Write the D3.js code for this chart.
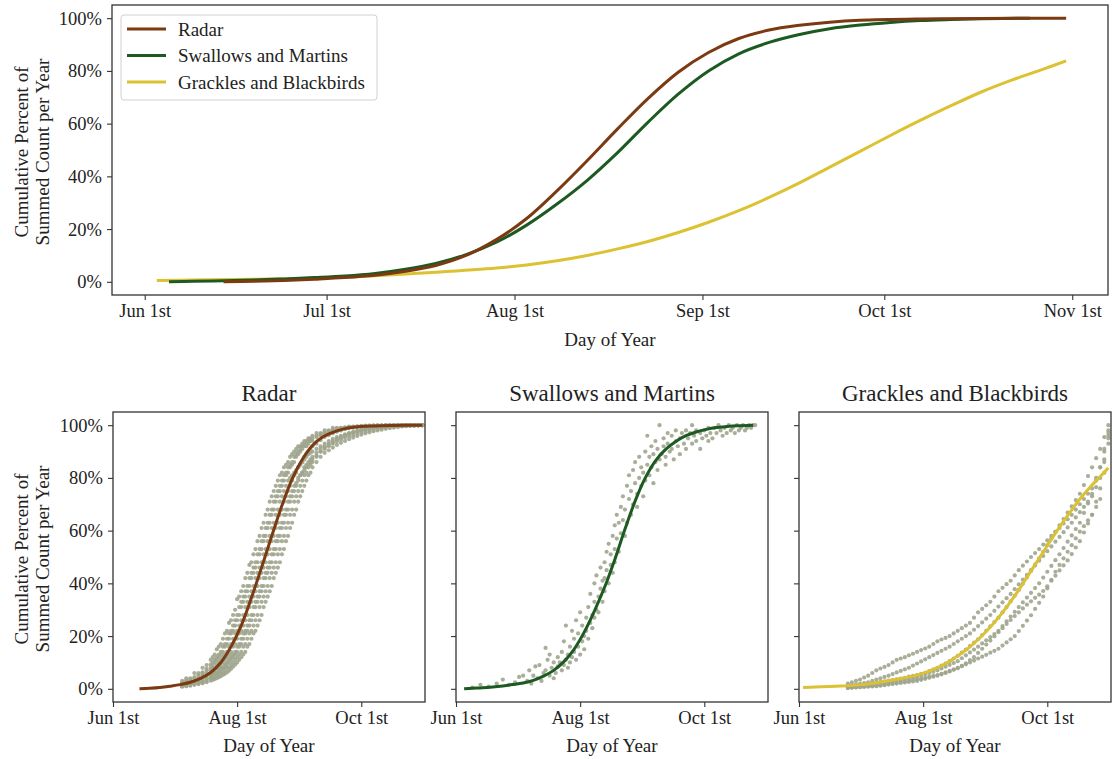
<!DOCTYPE html>
<html><head><meta charset="utf-8">
<script src="https://cdn.jsdelivr.net/npm/d3@7"></script>
<style>
body{margin:0;background:#fff;}
svg text{font-family:"Liberation Serif","DejaVu Serif",serif;fill:#222;}
</style></head><body>
<svg id="chart" width="1112" height="759"></svg>
<script>
// ---------- DATA ----------
const seriesNames = ["Radar", "Swallows and Martins", "Grackles and Blackbirds"];
const seriesColors = ["#7b3a12", "#1c5a21", "#dcc232"];
const dotColor = "#9ea58d";

const topTickDays = [152, 182, 213, 244, 274, 305];
const topTickLabels = ["Jun 1st", "Jul 1st", "Aug 1st", "Sep 1st", "Oct 1st", "Nov 1st"];
const subTickDays = [152, 213, 274];
const subTickLabels = ["Jun 1st", "Aug 1st", "Oct 1st"];
const yTicks = [0, 20, 40, 60, 80, 100];

// fitted cumulative curves: [day of year, percent]
const radarCurve = [[165,0],[170,0.2],[175,0.5],[180,1.0],[185,1.6],[190,2.5],[195,4.0],[200,6.2],[205,10],[210,16],[215,24],[220,34.5],[225,46],[230,58],[235,69.5],[240,79.5],[245,87],[250,92.3],[255,95.5],[260,97.3],[265,98.5],[270,99.2],[280,99.7],[290,99.9],[304,100]];
const swallowCurve = [[156,0],[160,0.2],[165,0.4],[170,0.7],[175,1.1],[180,1.6],[185,2.2],[190,3.2],[195,4.8],[200,7.0],[205,10.3],[210,15],[215,21.5],[220,29.5],[225,38.5],[230,49],[235,60.5],[240,71.2],[245,80],[250,86.5],[255,90.8],[260,93.8],[265,96],[270,97.4],[275,98.4],[280,99.1],[285,99.5],[290,99.8],[298,100]];
const grackleCurve = [[154,0.5],[160,0.7],[170,1.0],[180,1.4],[190,2.3],[200,3.6],[210,5.2],[215,6.4],[220,8.0],[225,10.0],[230,12.5],[235,15.3],[240,18.7],[245,22.6],[250,27],[255,32],[260,37.5],[265,43.5],[270,49.5],[275,55.5],[280,61.3],[285,66.8],[290,72],[295,76.5],[300,80.5],[304,83.8]];

// radar yearly observations (percent) on these days
const radarDays = [186,188,190,192,194,196,198,200,201,202,203,204,205,206,207,208,209,210,211,212,213,214,215,216,217,218,219,220,221,222,223,224,225,226,227,228,229,230,231,232,233,234,235,236,237,238,239,240,241,242,243,244,245,246,247,248,249,250,252,254,256,258,260,262,264,266,268,270,272,274,276,278,280,282,284,286,288,290,292,294,296,298,300,302,304];
const radarYear1 = [3,4,4,6,6,8,9,11, 12,13,15,16,17,19,21,22,25,26,28,30,34,35,37,39,42,44,47,48,51,53,56,58,61,63,66,68,71,73,75,77,79,81,82,84,85,86,88,89,90,91,92,92,93,94,94,95,95,96, 97,97,98,98,99,99,99,99,99.5,99.5,99.6,99.7,99.8,99.8,99.9,99.9,99.9,100,100,100,100,100,100,100,100,100,100];
const radarYear2 = [2,3,3,4,5,6,7,8, 9,10,11,12,13,14,16,17,19,21,22,24,26,28,31,33,35,37,39,42,44,46,48,51,53,56,58,61,63,66,68,71,73,75,77,79,81,82,84,85,86,88,89,90,91,92,92,93,94,94, 95.5,96.2,96.9,97.5,98,98.5,98.8,99,99.2,99.3,99.4,99.5,99.6,99.7,99.7,99.8,99.8,99.9,99.9,100,100,100,100,100,100,100,100];
const radarYear3 = [2,2,3,3,4,5,6,7, 8,8,9,10,11,12,13,14,16,17,19,21,22,24,26,28,31,33,35,37,39,42,44,46,48,51,53,56,58,61,63,66,68,71,73,75,77,79,80,81,82,83,84,85,86,87,88,89,89.5,90, 91,92,93,94,94.8,95.5,96,96.5,97,97.4,97.8,98.1,98.4,98.7,98.9,99.1,99.3,99.4,99.5,99.6,99.7,99.8,99.8,99.9,99.9,100,100];
const radarYear4 = [2,2,2,3,3,4,5,6, 6,7,8,8,9,10,11,12,13,14,16,17,19,21,22,24,26,28,31,33,35,37,39,42,44,46,48,51,53,56,58,61,63,66,68,71,73,75,77,79,81,82,84,85,86,88,89,90,91,92, 93,94.3,95.5,96.2,96.9,97.5,98,98.5,98.8,99,99.2,99.3,99.4,99.5,99.6,99.7,99.7,99.8,99.8,99.9,99.9,100,100,100,100,100,100];
const radarYear5 = [1,2,2,2,3,3,4,5, 5,6,6,7,8,8,9,10,11,12,13,14,16,17,19,21,22,24,26,28,31,33,35,37,39,42,44,46,48,51,53,56,58,61,63,66,68,71,73,75,77,78,80,81,82,83,84,85,86,87, 88.5,90,91,92,93,93.8,94.5,95.2,95.8,96.3,96.8,97.2,97.6,98,98.3,98.6,98.9,99.1,99.3,99.4,99.5,99.6,99.7,99.8,99.9,99.9,100];
const radarYear6 = [1,1,1.5,2,2,2.5,3,4, 4,4,5,5,6,6,7,8,8,9,10,11,12,13,14,16,17,19,21,22,24,26,28,31,33,35,37,39,42,44,46,48,51,53,56,58,61,63,66,68,71,73,75,77,79,81,82,84,85,86, 88,90,91.5,92.5,93.5,94.5,95.3,96,96.7,97.2,97.7,98.1,98.5,98.8,99,99.2,99.4,99.5,99.6,99.7,99.8,99.8,99.9,99.9,100,100,100];
const radarYear7 = [2.5,3,3.7,4.4,5.3,6.2,7.6,9.2, 10,11,12,13,14,16,17,19,21,22,24,26,28,31,33,35,37,39,42,44,46,48,51,53,56,58,61,63,66,68,71,73,75,77,79,81,82,84,85,86,88,89,90,91,92,92.5,93,94,94.3,95, 96,96.6,97.3,97.8,98.3,98.6,98.9,99.2,99.3,99.4,99.5,99.5,99.6,99.7,99.7,99.8,99.8,99.9,99.9,99.9,100,100,100,100,100,100,100];
const radarYear8 = [1.2,1.5,1.8,2.1,2.5,3.1,3.7,4.4, 4.8,5.3,5.7,6.2,6.9,7.6,8.4,9.2,10,11,12,13,14,16,17,19,21,22,24,26,28,31,33,35,37,39,42,44,46,48,51,53,56,58,61,63,66,68,71,73,75,77,79,81,82,84,85,86,87,88, 89.5,91,92,93,94,94.8,95.5,96.2,96.8,97.3,97.7,98.1,98.4,98.7,98.9,99.1,99.3,99.4,99.5,99.6,99.7,99.8,99.8,99.9,99.9,100,100];
const radarYear9 = [0.8,1.0,1.2,1.5,1.8,2.1,2.5,3.1, 3.4,3.7,4.0,4.4,4.8,5.3,5.7,6.2,6.9,7.6,8.4,9.2,10,11,12,13,14,16,17,19,21,22,24,26,28,31,33,35,37,39,42,44,46,48,51,53,56,58,61,63,66,68,71,73,75,77,79,81,82,84, 86,88,89.5,90.5,91.5,92.5,93.3,94,94.7,95.3,95.9,96.4,96.9,97.3,97.7,98,98.3,98.6,98.9,99.1,99.3,99.5,99.6,99.7,99.8,99.9,100];

// swallows & martins observations: [day, percent]
const swallowObs = [[160,0.5],[164,1.5],[168,0.8],[172,2],[175,3.5],[178,1.5],[181,2.5],[183,4.5],[185,5],[187,3],[188,7],[189,2],[190,5],[191,8.5],[192,4],[193,9],[194,3],[195,6],[196,15.5],[196,7],[197,11],[198,5],[198,13],[199,8],[200,10],[200,4],
[201,6],[202,12],[202,8.5],[203,10],[204,7],[204,14],[205,9],[205,18],[206,11],[206,24],[207,13],[207,8],[208,16],[208,10],[209,22],[209,12],[210,14],[210,19],[211,26],[211,11],[212,16],[212,21],[213,13],[213,29],[214,18],[214,24],[215,15],[215,20],[216,27],[216,22],[217,31],[217,19],[218,25],[218,36],[219,28],[219,23],[220,33],[220,40],[220,27],[221,30],[221,43],[222,35],[222,29],[223,38],[223,46],[224,33],[224,41],[225,48],[225,37],[225,42],[226,45],[226,52],[227,40],[227,55],[228,47],[228,51],[229,58],[229,44],[230,53],[230,62],[230,48],[231,57],[231,66],[232,52],[232,63],[233,69],[233,59],[234,64],[234,73],[235,58],[235,68],[236,77],[236,63],[237,72],[237,81],[238,66],[238,75],[239,83],[239,70],[240,78],[240,86],[241,74],[241,69],[242,80],[242,88],[243,77],[243,84],[244,73],[244,82],[245,90],[245,79],
[246,85],[246,96],[247,81],[247,88],[248,92],[248,84],[249,78],[249,89],[250,94],[250,86],[251,83],[251,91],[252,100],[252,87],[253,89],[254,95],[254,92],[255,85],[255,88],[256,97],[256,93],[257,90],[258,91],[258,96],[259,87],[260,94],[260,98],[261,92],[262,95],[262,89],[263,97],[264,93],[265,98],[265,91],[266,95],[267,97],[268,100],[268,93],[269,96],[270,94],[270,98],[272,97],[272,91],[273,95],[274,98],[275,96],[276,99],[276,94],[277,97],[278,95],[279,99],[280,97],[281,100],[282,98],[283,96],[284,99],[285,97],[286,100],[287,98],[288,99],[289,97],[290,100],[291,98],[292,99],[293,100],[294,98],[295,99],[296,100],[297,99],[298,100],[299,100]];

// grackles & blackbirds yearly observations on these days
const grackleDays = [176,178,180,182,184,186,188,190,192,194,196,198,200,202,204,206,208,210,212,214,216,218,220,222,224,226,228,230,232,234,236,238,240,242,244,246,248,250,252,254,256,258,260,262,264,266,268,270,272,274,276,278,280,282,284,286,288,290,292,294,296,298,300,302,304];
const grackleYear1 = [2,2.5,3,3.5,4.3,5,6,7,7.7,8.3,9,10,11,11.5,12,12.7,13.3,14,14.7,15.3,16,17,18,18.7,19.3,20,21,22,23,24,25,27,29,30.3,31.7,33,35,37,38.3,39.7,41,43,45,46.7,48.3,50,51.5,53,54.7,56.3,58,59.5,61,62.7,64.3,66,68,70,72,74,76,80,84,91,98];
const grackleYear2 = [1,1.3,1.6,1.9,2.2,2.5,3,3.5,4,4.5,5,5.6,6.2,6.8,7.4,8,8.8,9.6,10.4,11.2,12,12.8,13.6,14.4,15.2,16,17,18,19,20,21,22.4,23.8,25.2,26.6,28,29.6,31.2,32.8,34.4,36,37.8,39.6,41.4,43.2,45,46.8,48.6,50.4,52.2,54,55.8,57.6,59.4,61.2,63,65,67,69,71,73,76.5,80,87,95];
const grackleYear3 = [0.9,1.1,1.3,1.5,1.7,1.9,2.1,2.3,2.6,2.8,3.1,3.3,3.6,3.9,4.2,4.6,4.9,5.2,5.7,6.1,6.7,7.3,8,8.8,9.6,10.5,11.5,12.5,13.7,14.9,16.2,17.5,18.8,20.4,22,23.7,25.3,27,29,31,33.2,35.3,37.5,39.9,42.3,44.7,47.1,49.5,52,54.5,57,59.5,62,64.4,66.8,69.2,71.6,74,77.3,80.7,84,87.5,91,95.5,100];
const grackleYear4 = [0.5,0.6,0.8,0.9,1.1,1.2,1.4,1.5,1.8,2.1,2.4,2.7,3,3.3,3.6,3.9,4.2,4.5,5,5.5,6,6.5,7,7.7,8.4,9.1,9.8,10.5,11.6,12.7,13.8,14.9,16,17.2,18.4,19.6,20.8,22,23.8,25.6,27.4,29.2,31,32.8,34.6,36.4,38.2,40,42.2,44.4,46.6,48.8,51,53.4,55.8,58.2,60.6,63,66.7,70.3,74,79,84,90,96];
const grackleYear5 = [0.3,0.4,0.5,0.6,0.7,0.8,0.9,1,1.2,1.4,1.6,1.8,2,2.2,2.4,2.6,2.8,3,3.4,3.8,4.2,4.6,5,5.5,6,6.6,7.3,8,8.7,9.3,10,10.7,11.5,12.2,12.9,13.7,14.4,15.2,16.4,17.6,18.8,20,21.9,23.9,25.9,27.9,30.3,32.6,35,38.1,41.3,44.4,47,49.5,52,54.5,57.1,59.6,61.7,63.9,66,69,72,82,93];
const grackleYear6 = [0.4,0.5,0.6,0.7,0.9,1,1.1,1.2,1.4,1.6,1.9,2.1,2.3,2.6,2.8,3.1,3.3,3.6,3.9,4.2,4.6,4.9,5.2,5.7,6.2,6.8,7.3,7.8,8.6,9.7,10.9,12,13.6,15.2,16.8,18.3,19.9,21.5,23,24.6,26.1,27.6,29,30.5,31.9,33.2,34.5,35.7,37.1,38.9,41,42.9,44.9,46.8,48.7,51.1,53.6,56,59.3,62.7,66,71,76,86,97];

// ---------- DRAWING ----------
const svg = d3.select("#chart");
const curves = [radarCurve, swallowCurve, grackleCurve];
const FS_TICK = 18.5, FS_LABEL = 19, FS_TITLE = 23, FS_LEG = 19;
const smooth = d3.curveCatmullRom.alpha(0.5);

function frameAxes(g, x, y, opts) {
  const [x0, x1] = x.range(), [y1, y0] = y.range();
  const xa = d3.axisBottom(x).tickValues(opts.xt).tickFormat((d,i)=>opts.xl[i]).tickSize(5).tickPadding(4);
  const gx = g.append("g").attr("transform", `translate(0,${y1})`).call(xa);
  const ya = d3.axisLeft(y).tickValues(yTicks).tickFormat(d => opts.yLabels ? d + "%" : "").tickSize(5).tickPadding(5);
  const gy = g.append("g").attr("transform", `translate(${x0},0)`).call(ya);
  [gx, gy].forEach(a => {
    a.select(".domain").remove();
    a.selectAll(".tick line").attr("stroke", "#333").attr("stroke-width", 1.1);
    a.selectAll(".tick text").attr("fill", "#222").style("font-size", FS_TICK + "px").style("font-family", '"Liberation Serif",serif');
  });
  g.append("rect").attr("x", x0).attr("y", y0).attr("width", x1 - x0).attr("height", y1 - y0)
    .attr("fill", "none").attr("stroke", "#333").attr("stroke-width", 1.3);
}

function yLabel(g, cx, cy) {
  const t = g.append("g").attr("transform", `translate(${cx},${cy}) rotate(-90)`);
  t.append("text").attr("text-anchor", "middle").attr("dominant-baseline", "central").attr("y", -10)
    .style("font-size", FS_LABEL + "px").text("Cumulative Percent of");
  t.append("text").attr("text-anchor", "middle").attr("dominant-baseline", "central").attr("y", 11)
    .style("font-size", FS_LABEL + "px").text("Summed Count per Year");
}

// ---- top chart ----
const tx = d3.scaleLinear().domain([146.6, 310.9]).range([112, 1108]);
const ty = d3.scaleLinear().domain([-5, 105]).range([295, 5]);
const gTop = svg.append("g");
const lineTop = d3.line().x(d => tx(d[0])).y(d => ty(d[1])).curve(smooth);
[2, 1, 0].forEach(i => {
  gTop.append("path").attr("d", lineTop(curves[i])).attr("fill", "none")
    .attr("stroke", seriesColors[i]).attr("stroke-width", 3).attr("stroke-linecap", "butt");
});
frameAxes(gTop, tx, ty, {xt: topTickDays, xl: topTickLabels, yLabels: true});
yLabel(gTop, 31, 152);
gTop.append("text").attr("x", 610).attr("y", 346).attr("text-anchor", "middle").style("font-size", FS_LABEL + "px").text("Day of Year");

// legend
const leg = gTop.append("g");
leg.append("rect").attr("x", 121).attr("y", 15).attr("width", 256).attr("height", 85).attr("rx", 3)
  .attr("fill", "#fff").attr("fill-opacity", 0.85).attr("stroke", "#d0d0d0").attr("stroke-width", 1);
seriesNames.forEach((n, i) => {
  const cy = 29 + i * 26.5;
  leg.append("line").attr("x1", 127).attr("x2", 166).attr("y1", cy).attr("y2", cy)
    .attr("stroke", seriesColors[i]).attr("stroke-width", 3);
  leg.append("text").attr("x", 178).attr("y", cy).attr("dominant-baseline", "central")
    .style("font-size", FS_LEG + "px").text(n);
});

// ---- bottom panels ----
const panelLeft = [113, 456, 799];
const panelW = 312;
const dotSets = [
  {days: radarDays, years: [radarYear1, radarYear2, radarYear3, radarYear4, radarYear5, radarYear6, radarYear7, radarYear8, radarYear9]},
  {pairs: swallowObs},
  {days: grackleDays, years: [grackleYear1, grackleYear2, grackleYear3, grackleYear4, grackleYear5, grackleYear6]}
];
const defs = svg.append("defs");
panelLeft.forEach((L, i) => {
  const x = d3.scaleLinear().domain([152, 305.3]).range([L, L + panelW]);
  const y = d3.scaleLinear().domain([-5, 105]).range([702, 412]);
  const g = svg.append("g");
  defs.append("clipPath").attr("id", "clip" + i).append("rect")
    .attr("x", L).attr("y", 412).attr("width", panelW).attr("height", 290);
  const inner = g.append("g").attr("clip-path", `url(#clip${i})`);
  let pts = [];
  const ds = dotSets[i];
  if (ds.pairs) pts = ds.pairs;
  else ds.years.forEach(yr => yr.forEach((v, j) => pts.push([ds.days[j], v])));
  inner.selectAll("circle").data(pts).join("circle")
    .attr("cx", d => x(d[0])).attr("cy", d => y(d[1])).attr("r", 2.1)
    .attr("fill", dotColor).attr("fill-opacity", 0.9);
  const line = d3.line().x(d => x(d[0])).y(d => y(d[1])).curve(smooth);
  inner.append("path").attr("d", line(curves[i])).attr("fill", "none")
    .attr("stroke", seriesColors[i]).attr("stroke-width", 3);
  frameAxes(g, x, y, {xt: subTickDays, xl: subTickLabels, yLabels: i === 0});
  g.append("text").attr("x", L + panelW / 2).attr("y", 401).attr("text-anchor", "middle")
    .style("font-size", FS_TITLE + "px").text(seriesNames[i]);
  g.append("text").attr("x", L + panelW / 2).attr("y", 752).attr("text-anchor", "middle")
    .style("font-size", FS_LABEL + "px").text("Day of Year");
  if (i === 0) yLabel(g, 31, 559);
});
</script>
</body></html>
